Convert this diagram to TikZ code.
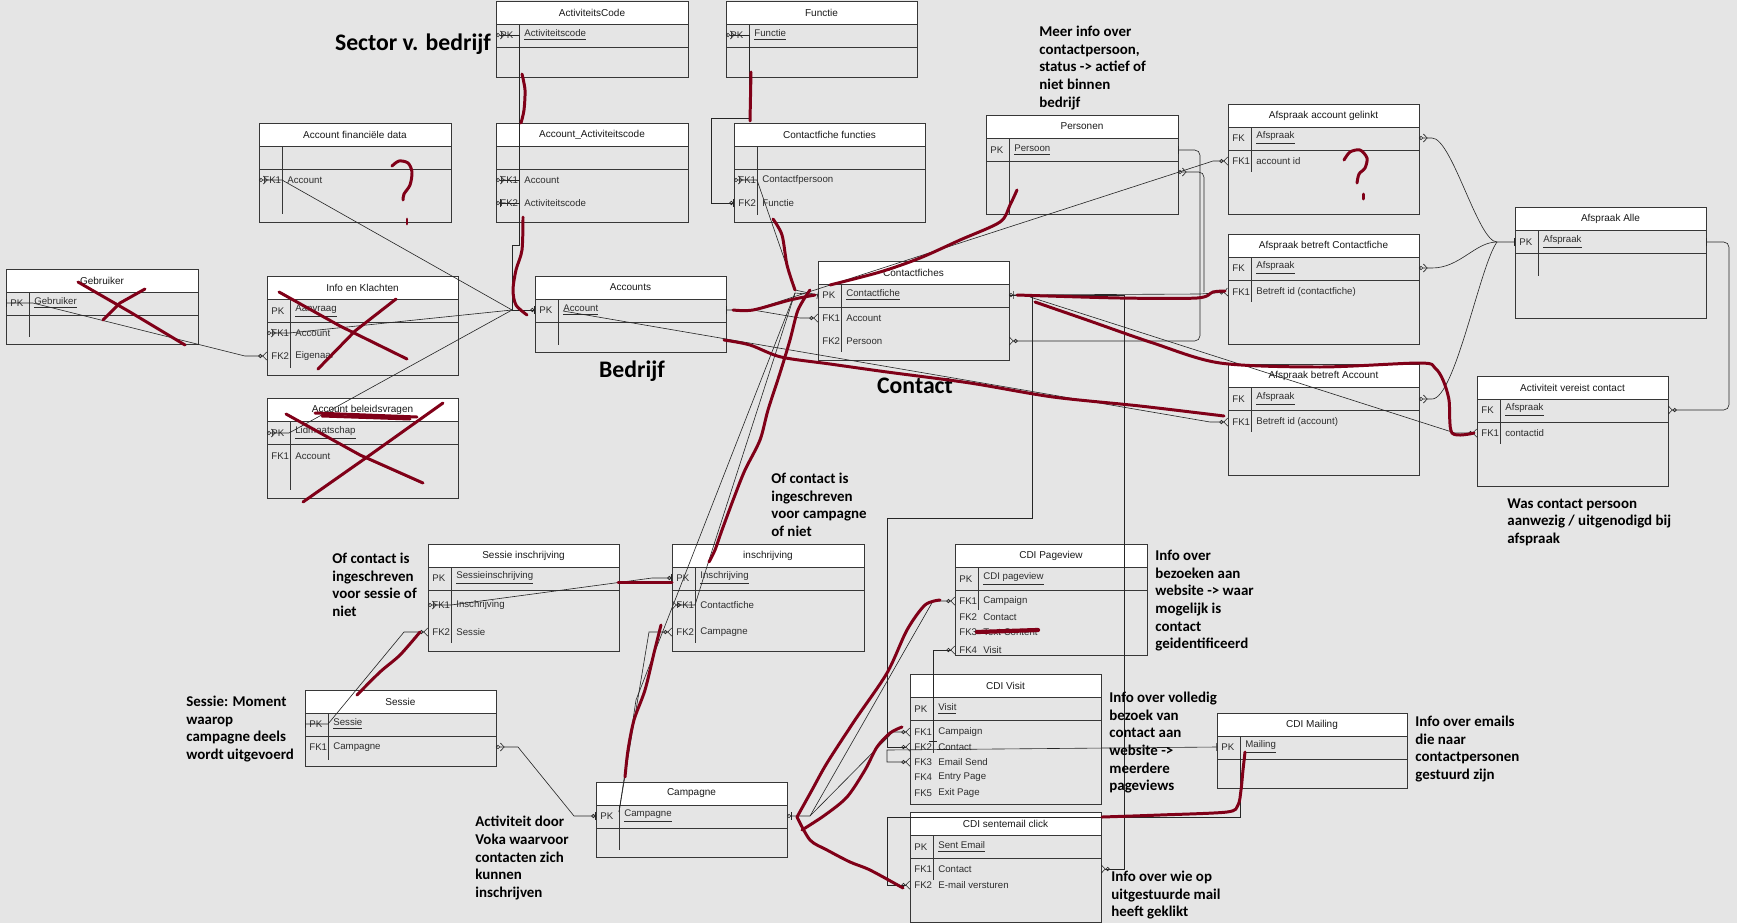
\documentclass[tikz,border=0pt]{standalone}
\usepackage{fontspec}
\setmainfont{Liberation Sans}
\newfontfamily\notefont{Carlito}
\usetikzlibrary{arrows.meta}
\definecolor{canvasbg}{RGB}{229,229,229}
\definecolor{tblline}{RGB}{55,55,55}
\definecolor{fldgray}{RGB}{45,45,45}
\definecolor{penred}{RGB}{128,0,24}

% table: name, x1, y1, x2, y2, title, bottom of key divider
\newcommand{\ertable}[7]{%
  \draw[tblborder, fill=canvasbg] (#2,#3) rectangle (#4,#5);
  \draw[tblborder, fill=white] (#2,#3) rectangle (#4,#3+23);
  \draw[tblborder] (#2,#3+46) -- (#4,#3+46);
  \draw[tblborder] (#2+23,#3+23) -- (#2+23,#7);
  \node[tbltitle] (#1) at ({(#2+#4)/2},#3+11.5) {#6};
  \coordinate (#1-w) at (#2,#3);
  \coordinate (#1-e) at (#4,#3);
}
% row: name, table x1, y, key, field
\newcommand{\errow}[5]{%
  \node[keytxt] at (#2+4,#3) {#4};
  \node[fldtxt] (#1) at (#2+28,#3) {#5};
}

\begin{document}
\begin{tikzpicture}[x=0.02cm, y=-0.02cm,
    tblborder/.style={draw=tblline, line width=0.55pt},
    tbltitle/.style={font=\fontsize{5.7}{6.8}\selectfont, text=black!90, inner sep=0pt},
    keytxt/.style={anchor=west, font=\fontsize{5.5}{6.6}\selectfont, text=fldgray, inner sep=0pt},
    fldtxt/.style={anchor=west, font=\fontsize{5.5}{6.6}\selectfont, text=fldgray, inner sep=0pt},
    conn/.style={draw=black!85, line width=0.35pt},
    redpen/.style={draw=penred, line width=1.7pt, line cap=round, line join=round},
    note/.style={font=\notefont\bfseries\fontsize{8.5}{10}\selectfont, align=left,
                 anchor=north west, inner sep=0pt},
    bignote/.style={font=\notefont\bfseries\fontsize{13.5}{16}\selectfont, inner sep=0pt},
    crowE/.tip={Circle[open,length=2.3pt,width=2.3pt] Straight Barb[reversed,length=2.2pt,width=4.6pt]},
    crowS/.tip={Straight Barb[reversed,length=2.2pt,width=4.6pt] Circle[open,length=2.3pt,width=2.3pt]},
    zoneE/.tip={Circle[open,length=2.3pt,width=2.3pt] Bar[width=4.5pt]},
    zoneS/.tip={Bar[width=4.5pt] Circle[open,length=2.3pt,width=2.3pt]},
    oneBar/.tip={Bar[width=4.5pt]}
  ]
  \fill[canvasbg] (0,0) rectangle (1737,923);
  \useasboundingbox (0,0) rectangle (1737,923);

  % tables
  \ertable{actcode}{496}{1}{688}{77}{ActiviteitsCode}{70}
  \errow{ac-pk}{496}{35}{PK}{\underline{Activiteitscode}}
  \ertable{accact}{496}{123}{688}{222}{Account\_Activiteitscode}{215}
  \errow{aa-fk1}{496}{180}{FK1}{Account}
  \errow{aa-fk2}{496}{203}{FK2}{Activiteitscode}
  \ertable{functie}{726}{1}{917}{77}{Functie}{70}
  \errow{fu-pk}{726}{35}{PK}{\underline{Functie}}
  \ertable{cffunc}{734}{123}{925}{222}{Contactfiche functies}{215}
  \errow{cff-fk1}{734}{180}{FK1}{Contactfpersoon}
  \errow{cff-fk2}{734}{203}{FK2}{Functie}
  \ertable{accfin}{259}{123}{451}{222}{Account financiële data}{214}
  \errow{af-fk1}{259}{180}{FK1}{Account}
  \ertable{gebr}{6}{269}{198}{344}{Gebruiker}{337}
  \errow{ge-pk}{6}{303}{PK}{\underline{Gebruiker}}
  \ertable{info}{267}{276}{458}{375}{Info en Klachten}{368}
  \errow{in-pk}{267}{311}{PK}{\underline{Aanvraag}}
  \errow{in-fk1}{267}{333}{FK1}{Account}
  \errow{in-fk2}{267}{356}{FK2}{Eigenaar}
  \ertable{accbel}{267}{398}{458}{498}{Account beleidsvragen}{490}
  \errow{ab-pk}{267}{433}{PK}{\underline{Lidmaatschap}}
  \errow{ab-fk1}{267}{456}{FK1}{Account}
  \ertable{accounts}{535}{276}{726}{352}{Accounts}{345}
  \errow{acc-pk}{535}{310}{PK}{\underline{Account}}
  \ertable{cfiches}{818}{261}{1009}{360}{Contactfiches}{352}
  \errow{cf-pk}{818}{295}{PK}{\underline{Contactfiche}}
  \errow{cf-fk1}{818}{318}{FK1}{Account}
  \errow{cf-fk2}{818}{341}{FK2}{Persoon}
  \ertable{personen}{986}{115}{1178}{214}{Personen}{214}
  \errow{pe-pk}{986}{150}{PK}{\underline{Persoon}}
  \ertable{afacc}{1228}{104}{1419}{214}{Afspraak account gelinkt}{172}
  \errow{afa-fk}{1228}{138}{FK}{\underline{Afspraak}}
  \errow{afa-fk1}{1228}{161}{FK1}{account id}
  \ertable{afcf}{1228}{234}{1419}{344}{Afspraak betreft Contactfiche}{302}
  \errow{afc-fk}{1228}{268}{FK}{\underline{Afspraak}}
  \errow{afc-fk1}{1228}{292}{FK1}{Betreft id (contactfiche)}
  \ertable{afba}{1228}{364}{1419}{475}{Afspraak betreft Account}{432}
  \errow{afb-fk}{1228}{399}{FK}{\underline{Afspraak}}
  \errow{afb-fk1}{1228}{422}{FK1}{Betreft id (account)}
  \ertable{afalle}{1515}{207}{1706}{318}{Afspraak Alle}{276}
  \errow{al-pk}{1515}{242}{PK}{\underline{Afspraak}}
  \ertable{avc}{1477}{376}{1668}{486}{Activiteit vereist contact}{444}
  \errow{av-fk}{1477}{410}{FK}{\underline{Afspraak}}
  \errow{av-fk1}{1477}{433}{FK1}{contactid}
  \ertable{sessins}{428}{544}{619}{651}{Sessie inschrijving}{643}
  \errow{si-pk}{428}{578}{PK}{\underline{Sessieinschrijving}}
  \errow{si-fk1}{428}{605}{FK1}{Inschrijving}
  \errow{si-fk2}{428}{632}{FK2}{Sessie}
  \ertable{inschr}{672}{544}{864}{651}{inschrijving}{643}
  \errow{is-pk}{672}{578}{PK}{\underline{Inschrijving}}
  \errow{is-fk1}{672}{605}{FK1}{Contactfiche}
  \errow{is-fk2}{672}{632}{FK2}{Campagne}
  \ertable{sessie}{305}{690}{496}{766}{Sessie}{760}
  \errow{se-pk}{305}{724}{PK}{\underline{Sessie}}
  \errow{se-fk1}{305}{747}{FK1}{Campagne}
  \ertable{campagne}{596}{782}{787}{857}{Campagne}{850}
  \errow{ca-pk}{596}{816}{PK}{\underline{Campagne}}
  \ertable{cdipv}{955}{544}{1147}{655}{CDI Pageview}{610}
  \errow{pv-pk}{955}{579}{PK}{\underline{CDI pageview}}
  \errow{pv-fk1}{955}{601}{FK1}{Campaign}
  \errow{pv-fk2}{955}{617}{FK2}{Contact}
  \errow{pv-fk3}{955}{632}{FK3}{Text Content}
  \errow{pv-fk4}{955}{650}{FK4}{Visit}
  \ertable{cdivisit}{910}{674}{1101}{804}{CDI Visit}{753}
  \errow{vi-pk}{910}{709}{PK}{\underline{Visit}}
  \errow{vi-fk1}{910}{732}{FK1}{Campaign}
  \errow{vi-fk2}{910}{747}{FK2}{Contact}
  \errow{vi-fk3}{910}{762}{FK3}{Email Send}
  \errow{vi-fk4}{910}{777}{FK4}{Entry Page}
  \errow{vi-fk5}{910}{793}{FK5}{Exit Page}
  \ertable{cdimail}{1217}{713}{1407}{788}{CDI Mailing}{758}
  \errow{ml-pk}{1217}{747}{PK}{\underline{Mailing}}
  \ertable{cdisent}{910}{812}{1101}{922}{CDI sentemail click}{880}
  \errow{sc-pk}{910}{847}{PK}{\underline{Sent Email}}
  \errow{sc-fk1}{910}{869}{FK1}{Contact}
  \errow{sc-fk2}{910}{885}{FK2}{E-mail versturen}

  % connectors
  \draw[conn, {crowS}-{zoneE}] (actcode-w |- ac-pk) -- (519,35) -- (519,245) -- (512,245) -- (512,310) -- (accounts-w |- acc-pk);
  \draw[conn, {crowS}-] (accact-w |- aa-fk1) -- (519,180);
  \draw[conn, {zoneS}-] (accact-w |- aa-fk2) -- (519,203);
  \draw[conn, {crowS}-] (accfin-w |- af-fk1) -- (282,180) -- (512,310);
  \draw[conn, {crowS}-] (info-w |- in-fk1) -- (289,333) -- (512,310);
  \draw[conn, {crowS}-] (accbel-w |- ab-pk) -- (289,433) -- (512,310);
  \draw[conn, {oneBar}-{crowE}] (gebr-w |- ge-pk) -- (33,303) -- (245,356) -- (info-w |- in-fk2);
  \draw[conn, {crowS}-{zoneE}] (functie-w |- fu-pk) -- (749,35) -- (749,118) -- (711,118) -- (711,203) -- (cffunc-w |- cff-fk2);
  \draw[conn, {crowS}-{oneBar}] (cffunc-w |- cff-fk1) -- (757,180) -- (795,290) -- (cfiches-w |- cf-pk);
  \draw[conn, {oneBar}-{crowE}] (accounts-e |- acc-pk) -- (753,310) -- (800,318) -- (cfiches-w |- cf-fk1);
  \draw[conn, -{crowE}] (753,310) -- (1213,161) -- (afacc-w |- afa-fk1);
  \draw[conn, -{crowE}] (563,311) -- (1210,422) -- (afba-w |- afb-fk1);
  \draw[conn, {zoneS}-{crowE}] (cfiches-e |- cf-pk) -- (1200,294) -- (afcf-w |- afc-fk1);
  \draw[conn, -{crowE}] (1030,297) -- (1455,433) -- (avc-w |- av-fk1);
  \draw[conn, rounded corners=3pt, {oneBar}-{crowE}] (personen-e |- pe-pk) -- (1200,150) -- (1200,341) -- (cfiches-e |- cf-fk2);
  \draw[conn, rounded corners=3pt, {crowS}-] (1178,172) -- (1204,172) -- (1204,292);
  \draw[conn, {crowS}-{oneBar}] (afacc-e |- afa-fk) -- (1432,138) .. controls (1452,138) and (1478,242) .. (1497,242) -- (afalle-w |- al-pk);
  \draw[conn, {crowS}-] (afcf-e |- afc-fk) -- (1432,268) .. controls (1460,268) and (1475,242) .. (1497,242);
  \draw[conn, {crowS}-] (afba-e |- afb-fk) -- (1432,399) .. controls (1455,399) and (1480,265) .. (1497,242);
  \draw[conn, rounded corners=3pt, {oneBar}-{crowE}] (afalle-e |- al-pk) -- (1729,242) -- (1729,410) -- (avc-e |- av-fk);
  \draw[conn, -{crowE}] (cfiches-w |- cf-pk) -- (795,293) -- (709,560) -- (695,605) -- (inschr-w |- is-fk1);
  \draw[conn] (795,293) -- (636,700) -- (619,812);
  \draw[conn, -{crowE}] (619,812) -- (649,632) -- (inschr-w |- is-fk2);
  \draw[conn, {oneBar}-{crowE}] (sessie-w |- se-pk) -- (328,724) -- (404,632) -- (sessins-w |- si-fk2);
  \draw[conn, {crowS}-{zoneE}] (sessins-w |- si-fk1) -- (451,605) -- (652,578) -- (inschr-w |- is-pk);
  \draw[conn, {crowS}-{zoneE}] (sessie-e |- se-fk1) -- (518,747) -- (574,816) -- (campagne-w |- ca-pk);
  \draw[conn, {zoneS}-{crowE}] (campagne-e |- ca-pk) -- (810,816) -- (933,601) -- (cdipv-w |- pv-fk1);
  \draw[conn, -{crowE}] (810,816) -- (893,732) -- (cdivisit-w |- vi-fk1);
  \draw[conn, -{crowE}] (cfiches-e |- cf-pk) -- (1032,295) -- (1032,518) -- (887,518) -- (887,747) -- (cdivisit-w |- vi-fk2);
  \draw[conn, -{crowE}] (1032,295) -- (1124,295) -- (1124,869) -- (cdisent-e |- sc-fk1);
  \draw[conn, {oneBar}-{crowE}] (cdimail-w |- ml-pk) -- (887,750) -- (887,762) -- (cdivisit-w |- vi-fk3);
  \draw[conn, -{crowE}] (1240,758) -- (1240,817) -- (887,817) -- (887,885) -- (cdisent-w |- sc-fk2);
  \draw[conn, {oneBar}-{crowE}] (933,742) -- (933,650) -- (cdipv-w |- pv-fk4);

  % notes
  \node[bignote] (sector) at (413,44) {Sector v. bedrijf};
  \node[bignote] (bedrijf) at (632,371) {Bedrijf};
  \node[bignote] (contact) at (915,386) {Contact};
  \node[note] (n-meer) at (1039,26) {Meer info over\\contactpersoon,\\status -> actief of\\niet binnen\\bedrijf};
  \node[note] (n-camp) at (771,473) {Of contact is\\ingeschreven\\voor campagne\\of niet};
  \node[note] (n-sess) at (332,553) {Of contact is\\ingeschreven\\voor sessie of\\niet};
  \node[note] (n-moment) at (186,696) {Sessie: Moment\\waarop\\campagne deels\\wordt uitgevoerd};
  \node[note] (n-voka) at (475,816) {Activiteit door\\Voka waarvoor\\contacten zich\\kunnen\\inschrijven};
  \node[note] (n-pv) at (1155,550) {Info over\\bezoeken aan\\website -> waar\\mogelijk is\\contact\\geidentificeerd};
  \node[note] (n-visit) at (1109,692) {Info over volledig\\bezoek van\\contact aan\\website ->\\meerdere\\pageviews};
  \node[note] (n-mail) at (1415,716) {Info over emails\\die naar\\contactpersonen\\gestuurd zijn};
  \node[note] (n-sent) at (1111,871) {Info over wie op\\uitgestuurde mail\\heeft geklikt};
  \node[note] (n-was) at (1507,498) {Was contact persoon\\aanwezig / uitgenodigd bij\\afspraak};

  % red pen marks
  \draw[redpen] plot[smooth] coordinates {(392,166) (399,161) (408,163) (412,172) (410,185) (404,194) (403,200)};
  \draw[redpen] (407,219) -- (407,224);
  \draw[redpen] (78,282) -- (130,312) -- (185,345);
  \draw[redpen] (145,289) -- (120,303) -- (103,320);
  \draw[redpen] (279,292) -- (340,326) -- (407,359);
  \draw[redpen] (396,299) -- (355,331) -- (318,369);
  \draw[redpen] (286,414) -- (360,455) -- (423,483);
  \draw[redpen] (443,403) -- (370,455) -- (303,502);
  \draw[redpen] (315,413) -- (417,417);
  \draw[redpen] (322,416) -- (410,419);
  \draw[redpen] plot[smooth] coordinates {(522,74) (525,90) (524,110) (521,123)};
  \draw[redpen] plot[smooth] coordinates {(523,217) (522,250) (516,270) (513,290) (516,305) (527,315)};
  \draw[redpen] (751,72) -- (750,121);
  \draw[redpen] plot[smooth] coordinates {(773,219) (782,235) (787,265) (795,290)};
  \draw[redpen] plot[smooth] coordinates {(733,310) (753,310) (790,300) (815,295)};
  \draw[redpen] plot[smooth] coordinates {(830,285) (880,272) (920,258) (960,240) (1000,222) (1010,205) (1017,190)};
  \draw[redpen] plot[smooth] coordinates {(810,290) (798,310) (790,340) (780,373) (768,410) (760,440) (745,470) (735,495) (722,530) (715,550) (709,562)};
  \draw[redpen] plot[smooth] coordinates {(724,340) (750,345) (781,357) (830,364) (887,372) (970,383) (1053,397) (1140,406) (1224,416)};
  \draw[redpen] plot[smooth] coordinates {(1017,295) (1120,298) (1197,298) (1213,292) (1225,291)};
  \draw[redpen] plot[smooth] coordinates {(1035,302) (1087,320) (1153,343) (1220,363) (1320,367) (1420,363) (1435,368) (1443,380) (1449,400) (1452,433) (1474,433)};
  \draw[redpen] plot[smooth] coordinates {(1344,160) (1350,152) (1360,150) (1367,158) (1365,168) (1359,174) (1357,183)};
  \draw[redpen] (1363,194) -- (1363,199);
  \draw[redpen] plot[smooth] coordinates {(420,632) (400,655) (380,672) (357,695)};
  \draw[redpen] (618,582) -- (672,582);
  \draw[redpen] plot[smooth] coordinates {(661,625) (654,653) (645,690) (634,720) (628,750) (625,777)};
  \draw[redpen] plot[smooth] coordinates {(797,817) (812,790) (827,763) (855,720) (887,673) (907,630) (925,605) (940,600)};
  \draw[redpen] plot[smooth] coordinates {(802,830) (825,815) (847,797) (865,770) (877,747) (890,733) (902,727)};
  \draw[redpen] plot[smooth] coordinates {(797,817) (810,840) (827,850) (850,862) (870,870) (903,888)};
  \draw[redpen] plot[smooth] coordinates {(1102,817) (1160,815) (1227,812) (1238,805) (1241,790) (1243,770) (1245,752)};
  \draw[redpen, line width=2.4pt] (977,632) -- (1038,630);
\end{tikzpicture}
\end{document}
